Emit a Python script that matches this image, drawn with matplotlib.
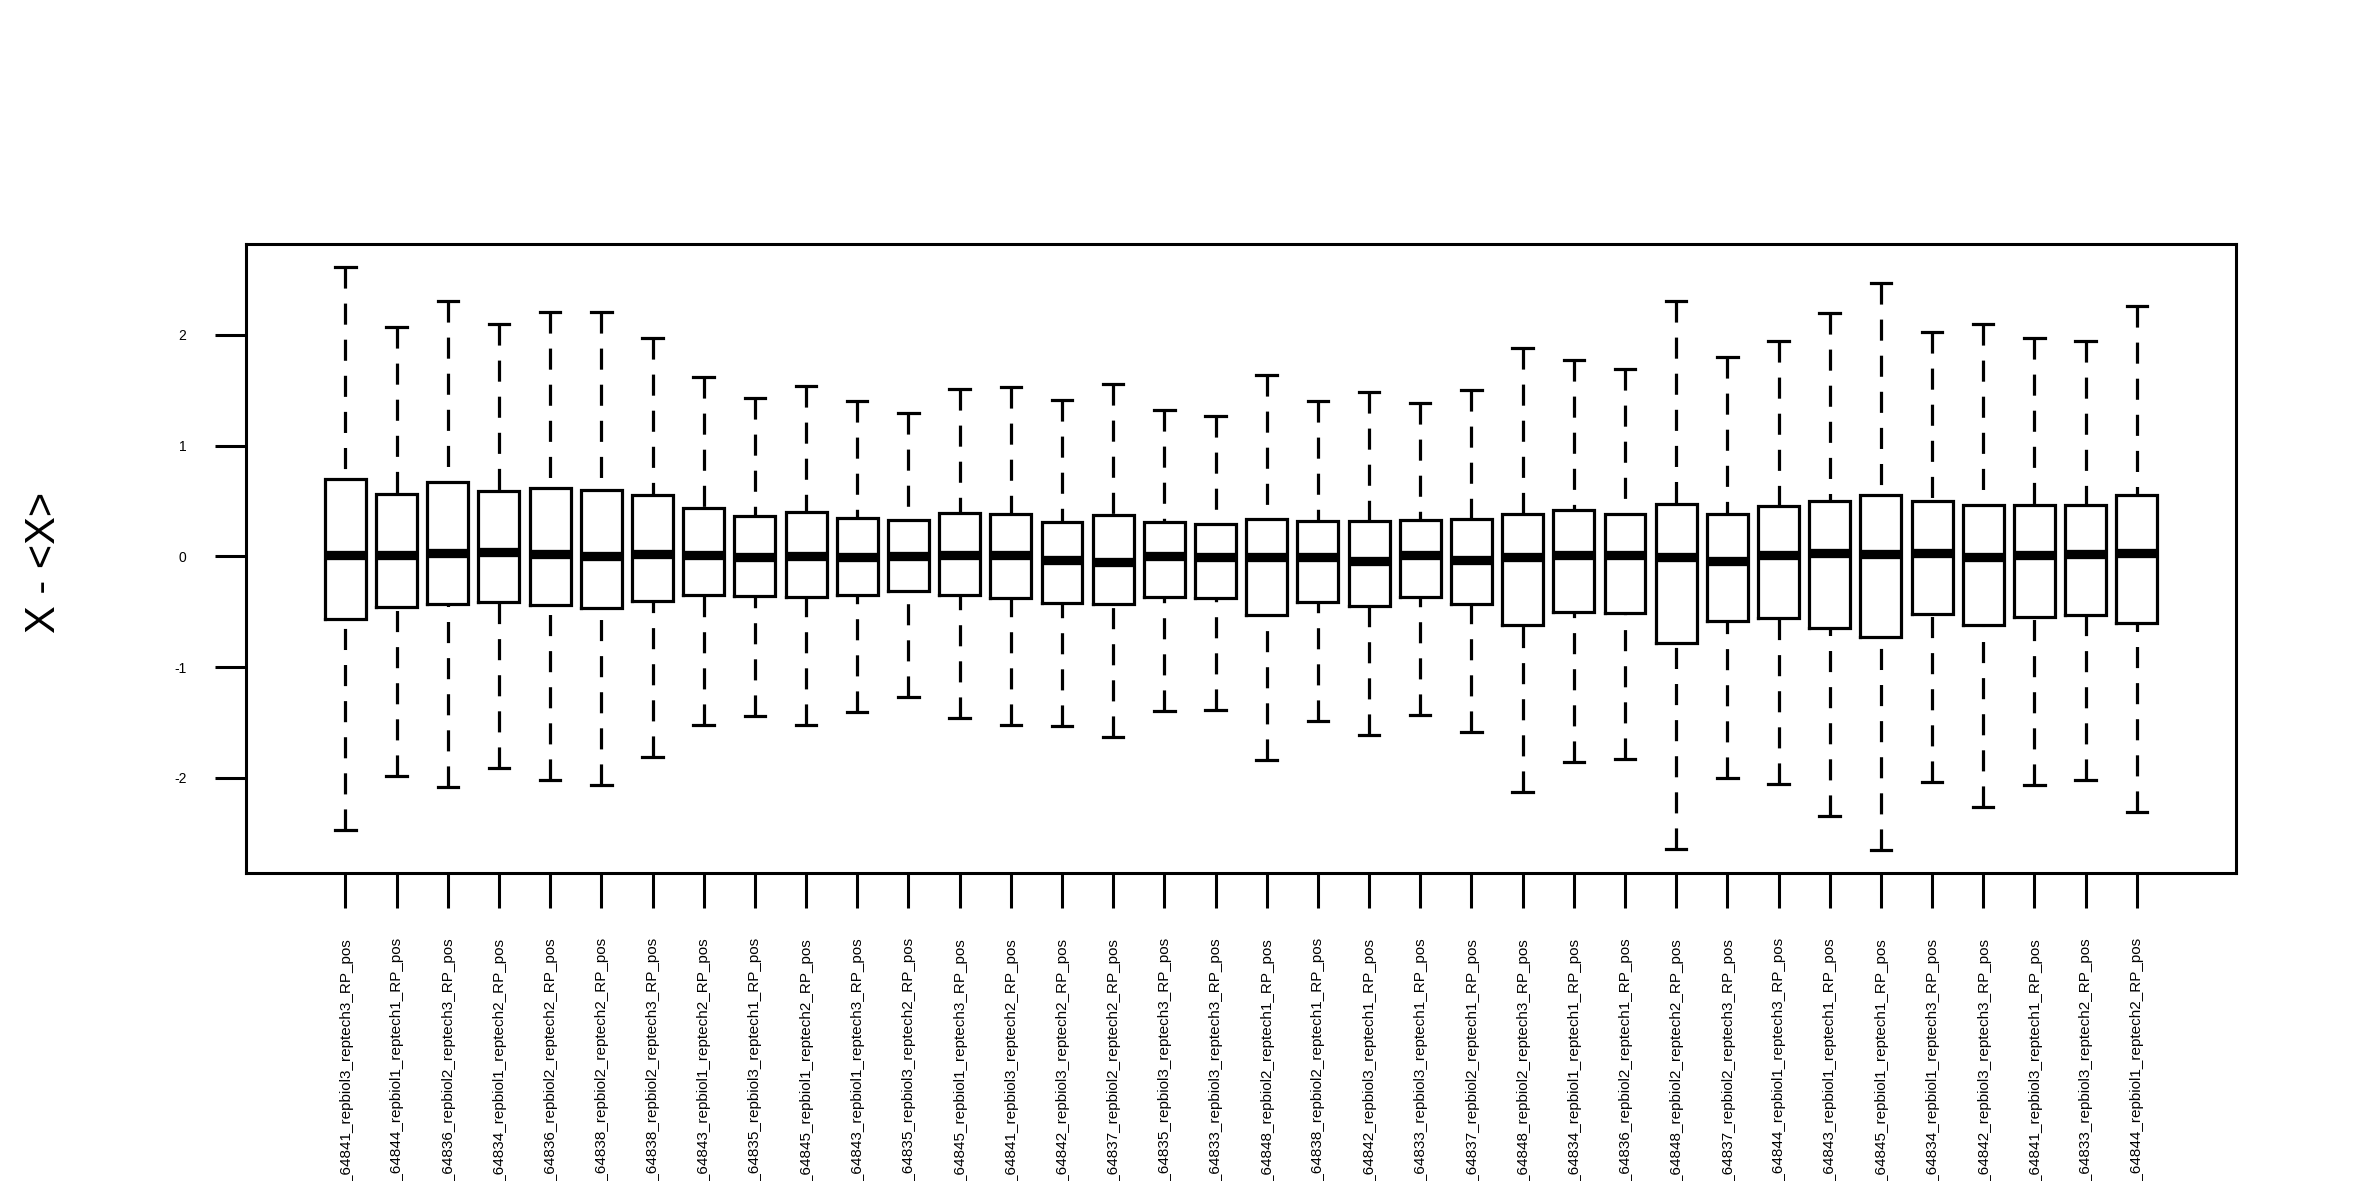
import matplotlib
matplotlib.use("Agg")
import matplotlib.pyplot as plt

plt.rcParams['font.family'] = ['Liberation Sans', 'DejaVu Sans']

# nomes das amostras (o início fica cortado pela borda da figura, como no original)
amostras = [
    "H_64841_repbiol3_reptech3_RP_pos", "T_64844_repbiol1_reptech1_RP_pos",
    "O_64836_repbiol2_reptech3_RP_pos", "F_64834_repbiol1_reptech2_RP_pos",
    "O_64836_repbiol2_reptech2_RP_pos", "T_64838_repbiol2_reptech2_RP_pos",
    "T_64838_repbiol2_reptech3_RP_pos", "O_64843_repbiol1_reptech2_RP_pos",
    "T_64835_repbiol3_reptech1_RP_pos", "H_64845_repbiol1_reptech2_RP_pos",
    "O_64843_repbiol1_reptech3_RP_pos", "T_64835_repbiol3_reptech2_RP_pos",
    "H_64845_repbiol1_reptech3_RP_pos", "H_64841_repbiol3_reptech2_RP_pos",
    "F_64842_repbiol3_reptech2_RP_pos", "F_64837_repbiol2_reptech2_RP_pos",
    "T_64835_repbiol3_reptech3_RP_pos", "O_64833_repbiol3_reptech3_RP_pos",
    "H_64848_repbiol2_reptech1_RP_pos", "T_64838_repbiol2_reptech1_RP_pos",
    "F_64842_repbiol3_reptech1_RP_pos", "O_64833_repbiol3_reptech1_RP_pos",
    "F_64837_repbiol2_reptech1_RP_pos", "H_64848_repbiol2_reptech3_RP_pos",
    "F_64834_repbiol1_reptech1_RP_pos", "O_64836_repbiol2_reptech1_RP_pos",
    "H_64848_repbiol2_reptech2_RP_pos", "F_64837_repbiol2_reptech3_RP_pos",
    "T_64844_repbiol1_reptech3_RP_pos", "O_64843_repbiol1_reptech1_RP_pos",
    "H_64845_repbiol1_reptech1_RP_pos", "F_64834_repbiol1_reptech3_RP_pos",
    "F_64842_repbiol3_reptech3_RP_pos", "H_64841_repbiol3_reptech1_RP_pos",
    "O_64833_repbiol3_reptech2_RP_pos", "T_64844_repbiol1_reptech2_RP_pos",
]

# estatísticas de cada caixa
bigode_sup = [2.61, 2.07, 2.31, 2.10, 2.21, 2.21, 1.97, 1.62, 1.43, 1.54, 1.40, 1.29,
              1.51, 1.53, 1.41, 1.56, 1.32, 1.27, 1.64, 1.40, 1.48, 1.38, 1.50, 1.88,
              1.77, 1.69, 2.31, 1.80, 1.94, 2.20, 2.47, 2.03, 2.10, 1.97, 1.94, 2.26]
q3 = [0.70, 0.56, 0.67, 0.59, 0.62, 0.60, 0.55, 0.44, 0.36, 0.40, 0.35, 0.33,
      0.39, 0.38, 0.31, 0.37, 0.31, 0.29, 0.34, 0.32, 0.32, 0.33, 0.34, 0.38,
      0.42, 0.38, 0.47, 0.38, 0.45, 0.50, 0.55, 0.50, 0.46, 0.46, 0.46, 0.55]
mediana = [0.01, 0.015, 0.027, 0.038, 0.019, 0.004, 0.019, 0.01, -0.008, 0.0, -0.011, 0.004,
           0.011, 0.008, -0.03, -0.049, 0.0, -0.011, -0.011, -0.011, -0.046, 0.011, -0.034, -0.011,
           0.011, 0.008, -0.011, -0.046, 0.008, 0.027, 0.023, 0.03, -0.004, 0.015, 0.023, 0.034]
q1 = [-0.57, -0.46, -0.43, -0.41, -0.44, -0.47, -0.40, -0.35, -0.36, -0.37, -0.35, -0.31,
      -0.35, -0.38, -0.42, -0.43, -0.37, -0.38, -0.53, -0.41, -0.45, -0.37, -0.43, -0.62,
      -0.50, -0.51, -0.78, -0.58, -0.56, -0.65, -0.73, -0.52, -0.62, -0.55, -0.53, -0.60]
bigode_inf = [-2.47, -1.98, -2.08, -1.91, -2.02, -2.07, -1.81, -1.52, -1.44, -1.52, -1.41, -1.27,
              -1.46, -1.52, -1.53, -1.63, -1.40, -1.39, -1.84, -1.49, -1.61, -1.43, -1.59, -2.13,
              -1.86, -1.83, -2.64, -2.00, -2.06, -2.35, -2.65, -2.04, -2.26, -2.07, -2.02, -2.31]

estatisticas = [
    {"med": m, "q1": a, "q3": b, "whislo": lo, "whishi": hi, "fliers": []}
    for m, a, b, lo, hi in zip(mediana, q1, q3, bigode_inf, bigode_sup)
]

fig = plt.figure(figsize=(23.62, 11.81), dpi=100)
ax = fig.add_axes([0.1042, 0.2608, 0.8425, 0.5326])

lw = 2.3
bp = ax.bxp(
    estatisticas, widths=0.8, capwidths=0.4, showfliers=False,
    boxprops=dict(color="black", linewidth=lw, solid_joinstyle="miter"),
    medianprops=dict(color="black", linewidth=6.7, solid_capstyle="butt"),
    whiskerprops=dict(color="black", linewidth=lw, linestyle=(0, (6.6, 4.7))),
    capprops=dict(color="black", linewidth=lw),
)
# como no R, o tracejado começa na ponta do bigode
for w in bp["whiskers"]:
    w.set_ydata(w.get_ydata()[::-1])

n = len(amostras)
ax.set_xlim(0.5 - 0.04 * n, n + 0.5 + 0.04 * n)
lo, hi = min(bigode_inf), max(bigode_sup)
pad = 0.04 * (hi - lo)
ax.set_ylim(lo - pad, hi + pad)

ax.set_xticks(range(1, n + 1))
ax.set_xticklabels(amostras, rotation=90, fontsize=11)
ax.set_yticks([-2, -1, 0, 1, 2])
ax.set_yticklabels(["-2", "-1", "0", "1", "2"], fontsize=10)
ax.tick_params(axis="x", length=25, width=2.2, pad=21)
ax.tick_params(axis="y", length=22, width=2.2, pad=21)

for s in ax.spines.values():
    s.set_linewidth(2.2)

ax.set_ylabel("X - <X>", fontsize=30, va="center")
ax.yaxis.set_label_coords(-0.1015, 0.494)

fig.savefig("out.png", dpi=100)
